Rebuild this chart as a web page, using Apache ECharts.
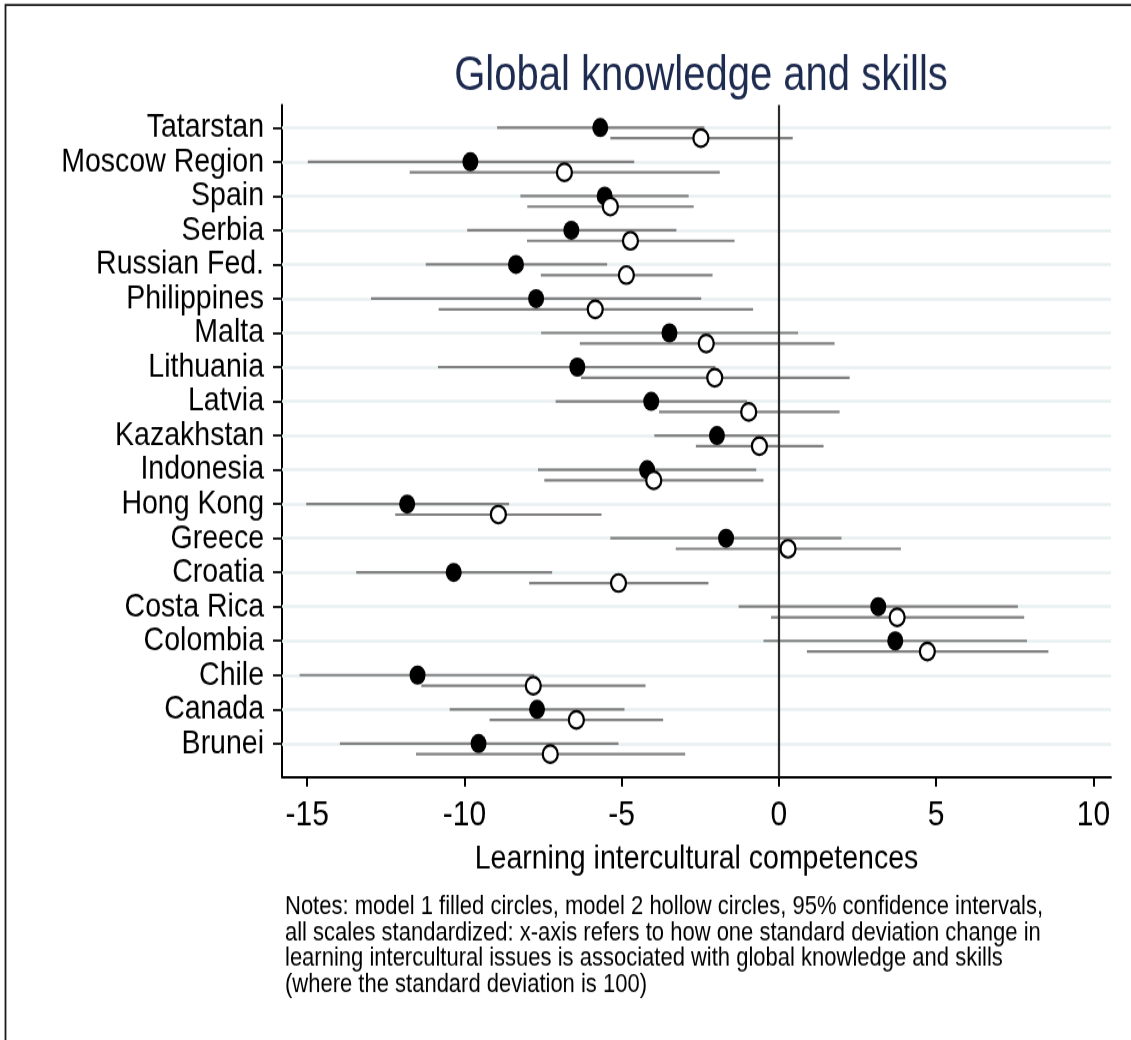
<!DOCTYPE html>
<html>
<head>
<meta charset="utf-8">
<script src="https://cdn.jsdelivr.net/npm/echarts@6/dist/echarts.min.js"></script>
<style>
  html, body { margin: 0; padding: 0; background: #fff; width: 1131px; height: 1040px; overflow: hidden; }
  #frame { width: 1131px; height: 1040px; overflow: hidden; background: #fff; }
  /* the figure is drawn at 1131x867 and shown 1.2x taller, giving the tall, narrow lettering */
  #chart { width: 1131px; height: 867px; transform: scaleY(1.19954); transform-origin: 0 0; }
</style>
</head>
<body>
<div id="frame"><div id="chart"></div></div>
<script>
// Countries, top to bottom
const countries = ['Tatarstan', 'Moscow Region', 'Spain', 'Serbia', 'Russian Fed.', 'Philippines', 'Malta',
  'Lithuania', 'Latvia', 'Kazakhstan', 'Indonesia', 'Hong Kong', 'Greece', 'Croatia', 'Costa Rica',
  'Colombia', 'Chile', 'Canada', 'Brunei'];

// Model 1 (filled circles): estimate and 95% CI bounds
const m1Est = [-5.68, -9.81, -5.54, -6.60, -8.36, -7.72, -3.48, -6.41, -4.06, -1.97, -4.19, -11.82, -1.68, -10.34, 3.16, 3.70, -11.49, -7.69, -9.55];
const m1Lo  = [-8.96, -14.98, -8.22, -9.91, -11.23, -12.97, -7.56, -10.84, -7.10, -3.96, -7.66, -15.03, -5.36, -13.44, -1.28, -0.49, -15.24, -10.47, -13.96];
const m1Hi  = [-2.37, -4.60, -2.87, -3.26, -5.46, -2.47, 0.61, -2.02, -1.01, 0.02, -0.72, -8.58, 1.99, -7.21, 7.60, 7.89, -7.78, -4.91, -5.10];

// Model 2 (hollow circles): estimate and 95% CI bounds
const m2Est = [-2.48, -6.82, -5.36, -4.72, -4.85, -5.84, -2.31, -2.04, -0.96, -0.62, -3.98, -8.92, 0.29, -5.10, 3.76, 4.72, -7.81, -6.44, -7.27];
const m2Lo  = [-5.36, -11.74, -8.00, -8.01, -7.57, -10.82, -6.33, -6.29, -3.81, -2.64, -7.46, -12.20, -3.28, -7.94, -0.25, 0.89, -11.37, -9.20, -11.54];
const m2Hi  = [0.44, -1.88, -2.71, -1.41, -2.11, -0.82, 1.77, 2.25, 1.93, 1.42, -0.49, -5.64, 3.88, -2.24, 7.80, 8.57, -4.24, -3.68, -2.98];

// x-axis tick values
const xTicks = [-15, -10, -5, 0, 5, 10];

const notes = [
  'Notes: model 1 filled circles, model 2 hollow circles, 95% confidence intervals,',
  'all scales standardized: x-axis refers to how one standard deviation change in',
  'learning intercultural issues is associated with global knowledge and skills',
  '(where the standard deviation is 100)'
];

const FONT = "'Liberation Sans', Arial, Helvetica, sans-serif";
const M2_SHIFT = 0.31;  // model 2 sits slightly below model 1 in each row
const Y_MIN = 0.34, Y_MAX = 19.97;

const rows = countries.map((_, i) => i + 1);
// country labels are split over two stacked left axes (odd / even rows) so the
// tightly packed names are never dropped by the axis label overlap check
const oddRows = rows.filter(r => r % 2 === 1);
const evenRows = rows.filter(r => r % 2 === 0);

const ci1 = rows.map((r, i) => [m1Lo[i], m1Hi[i], r]);
const ci2 = rows.map((r, i) => [m2Lo[i], m2Hi[i], r + M2_SHIFT]);
const pts1 = rows.map((r, i) => [m1Est[i], r]);
const pts2 = rows.map((r, i) => [m2Est[i], r + M2_SHIFT]);

function renderCI(params, api) {
  const a = api.coord([api.value(0), api.value(2)]);
  const b = api.coord([api.value(1), api.value(2)]);
  return {
    type: 'line',
    shape: { x1: a[0], y1: a[1], x2: b[0], y2: b[1] },
    style: { stroke: '#808080', lineWidth: 2.2 }
  };
}

function countryAxis(values, showLine) {
  return {
    type: 'value',
    inverse: true,
    position: 'left',
    offset: 0,
    min: Y_MIN,
    max: Y_MAX,
    axisLine: { show: showLine, onZero: false, lineStyle: { color: '#000', width: 2 } },
    axisTick: { show: true, length: 9, customValues: values, lineStyle: { color: '#000', width: 1.8 } },
    axisLabel: {
      customValues: values,
      margin: 18,
      fontFamily: FONT,
      fontSize: 28.5,
      color: '#000',
      showMinLabel: true,
      showMaxLabel: true,
      formatter: v => countries[Math.round(v) - 1] || ''
    },
    splitLine: { show: false }
  };
}

const chart = echarts.init(document.getElementById('chart'), null, { renderer: 'canvas' });

chart.setOption({
  backgroundColor: '#ffffff',
  animation: false,
  title: {
    text: 'Global knowledge and skills',
    left: 696,
    top: 39,
    textAlign: 'center',
    textStyle: { fontFamily: FONT, fontSize: 40, fontWeight: 'normal', color: '#1e2b50' }
  },
  grid: { left: 282, top: 87.5, right: 20, bottom: 219.5, containLabel: false },
  xAxis: {
    type: 'value',
    min: -15.8,
    max: 10.56,
    name: 'Learning intercultural competences',
    nameLocation: 'middle',
    nameGap: 54.5,
    nameTextStyle: { fontFamily: FONT, fontSize: 28.5, color: '#000' },
    axisLine: { show: true, onZero: false, lineStyle: { color: '#000', width: 1.8 } },
    axisTick: { show: true, length: 8.3, customValues: xTicks, lineStyle: { color: '#000', width: 2 } },
    axisLabel: {
      customValues: xTicks, margin: 17.5, fontFamily: FONT, fontSize: 30, color: '#000',
      showMinLabel: true, showMaxLabel: true
    },
    splitLine: { show: false }
  },
  yAxis: [countryAxis(oddRows, true), countryAxis(evenRows, false)],
  series: [
    {
      // row guides
      type: 'line',
      data: [],
      z: 1,
      silent: true,
      markLine: {
        z: 1,
        silent: true,
        symbol: 'none',
        label: { show: false },
        lineStyle: { color: '#e9f0f2', width: 2.5, type: 'solid' },
        data: rows.map(r => ({ yAxis: r }))
      }
    },
    { type: 'custom', name: 'Model 1 CI', renderItem: renderCI, data: ci1, z: 2, encode: { x: [0, 1], y: 2 } },
    { type: 'custom', name: 'Model 2 CI', renderItem: renderCI, data: ci2, z: 2, encode: { x: [0, 1], y: 2 } },
    {
      // reference line at zero
      type: 'line',
      data: [],
      z: 3,
      silent: true,
      markLine: {
        z: 3,
        silent: true,
        symbol: 'none',
        label: { show: false },
        lineStyle: { color: '#2b2b2b', width: 2.2, type: 'solid' },
        data: [{ xAxis: 0 }]
      }
    },
    {
      type: 'scatter',
      name: 'Model 1',
      data: pts1,
      z: 4,
      symbol: 'circle',
      symbolSize: [16, 16],
      itemStyle: { color: '#000', opacity: 1 }
    },
    {
      type: 'scatter',
      name: 'Model 2',
      data: pts2,
      z: 5,
      symbol: 'circle',
      symbolSize: [15, 14.5],
      itemStyle: { color: '#fff', borderColor: '#000', borderWidth: 2.2, opacity: 1 }
    }
  ],
  graphic: [
    {
      type: 'rect',
      silent: true,
      shape: { x: 5.5, y: 4.2, width: 1200, height: 1200 },
      style: { fill: 'none', stroke: '#1a1a1a', lineWidth: 1.8 }
    },
    {
      type: 'text',
      left: 285,
      top: 745,
      silent: true,
      style: {
        text: notes.join('\n'),
        fontFamily: FONT,
        fontSize: 22,
        lineHeight: 21.7,
        fill: '#000'
      }
    }
  ]
});
</script>
</body>
</html>
